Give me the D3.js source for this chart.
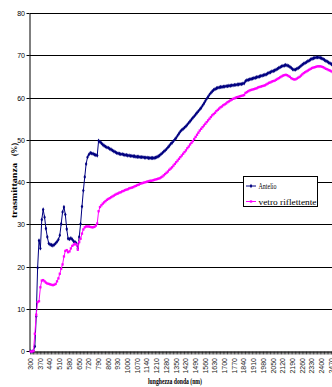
<!DOCTYPE html>
<html>
<head>
<meta charset="utf-8">
<script src="https://cdn.jsdelivr.net/npm/d3@7"></script>
<style>
  html, body { margin: 0; padding: 0; background: #fff; }
  svg { display: block; }
</style>
</head>
<body>
<svg id="chart" width="332" height="387"></svg>
<script>
// Wavelength categories (nm), one every 10 nm
const wavelengths = d3.range(300, 2501, 10);

// Transmittance (%) of the Antelio glass
const antelio = [
  0.0, 0.0, 0.2, 1.2, 8.3, 19.8, 26.3, 24.4, 31.2, 33.6,
  31.8, 29.1, 27.1, 25.6, 25.3, 25.2, 25.1, 25.3, 25.6, 26.0,
  26.5, 27.5, 30.2, 33.0, 34.2, 32.4, 29.0, 26.7, 26.6, 26.8,
  26.5, 26.1, 25.9, 25.6, 24.3, 27.1, 30.2, 34.3, 38.1, 41.3,
  44.4, 46.0, 46.6, 47.0, 46.9, 46.8, 46.6, 46.5, 46.4, 49.9,
  49.6, 49.3, 49.0, 48.7, 48.5, 48.3, 48.2, 48.0, 47.8, 47.6,
  47.4, 47.2, 47.0, 46.9, 46.8, 46.7, 46.7, 46.6, 46.5, 46.5,
  46.4, 46.4, 46.3, 46.3, 46.2, 46.2, 46.1, 46.1, 46.1, 46.0,
  46.0, 46.0, 45.9, 45.9, 45.9, 45.8, 45.8, 45.8, 45.8, 45.8,
  45.9, 46.0, 46.2, 46.4, 46.7, 47.0, 47.3, 47.6, 47.9, 48.3,
  48.7, 49.1, 49.4, 49.8, 50.2, 50.6, 51.1, 51.6, 52.1, 52.4,
  52.7, 53.0, 53.3, 53.7, 54.1, 54.5, 54.9, 55.3, 55.7, 56.1,
  56.5, 56.9, 57.3, 57.7, 58.2, 58.7, 59.3, 59.8, 60.3, 60.8,
  61.2, 61.6, 61.9, 62.1, 62.3, 62.4, 62.5, 62.6, 62.6, 62.7,
  62.7, 62.8, 62.8, 62.9, 62.9, 63.0, 63.0, 63.1, 63.1, 63.2,
  63.2, 63.3, 63.3, 63.4, 63.5, 64.0, 64.2, 64.3, 64.4, 64.5,
  64.6, 64.7, 64.8, 64.9, 65.0, 65.1, 65.2, 65.3, 65.4, 65.5,
  65.6, 65.8, 66.0, 66.1, 66.3, 66.4, 66.5, 66.7, 66.9, 67.1,
  67.3, 67.5, 67.6, 67.7, 67.8, 67.7, 67.6, 67.4, 67.1, 66.8,
  66.7, 66.7, 66.9, 67.1, 67.3, 67.6, 67.9, 68.1, 68.3, 68.5,
  68.7, 68.9, 69.1, 69.3, 69.4, 69.5, 69.6, 69.6, 69.6, 69.5,
  69.4, 69.2, 69.0, 68.8, 68.6, 68.4, 68.2, 68.0, 67.8, 67.6,
  67.4
];

// Transmittance (%) of the reflective glass
const vetroRiflettente = [
  0.0, 0.0, 0.1, 4.2, 8.7, 11.7, 11.9, 15.2, 16.8, 16.9,
  16.6, 16.3, 16.1, 16.0, 15.9, 15.8, 15.7, 15.8, 16.0, 16.6,
  17.3, 18.4, 19.6, 20.6, 22.5, 23.8, 24.0, 23.5, 23.7, 24.4,
  25.0, 25.3, 25.5, 25.3, 24.1, 25.9, 26.7, 27.9, 28.9, 29.4,
  29.6, 29.6, 29.6, 29.5, 29.4, 29.4, 29.5, 29.8, 30.3, 33.2,
  34.2, 34.6, 35.0, 35.3, 35.6, 35.9, 36.1, 36.3, 36.5, 36.7,
  36.9, 37.1, 37.3, 37.4, 37.6, 37.7, 37.9, 38.0, 38.2, 38.3,
  38.4, 38.6, 38.7, 38.8, 38.9, 39.1, 39.2, 39.4, 39.5, 39.7,
  39.8, 39.9, 40.0, 40.1, 40.2, 40.3, 40.4, 40.4, 40.5, 40.6,
  40.7, 40.8, 40.9, 41.0, 41.2, 41.4, 41.7, 42.0, 42.3, 42.6,
  43.0, 43.3, 43.6, 44.0, 44.4, 44.8, 45.2, 45.6, 46.0, 46.4,
  46.8, 47.2, 47.6, 48.1, 48.5, 49.0, 49.4, 49.8, 50.3, 50.8,
  51.3, 51.8, 52.3, 52.7, 53.1, 53.5, 53.9, 54.3, 54.7, 55.1,
  55.5, 55.9, 56.2, 56.5, 56.9, 57.2, 57.5, 57.8, 58.0, 58.3,
  58.5, 58.7, 59.0, 59.2, 59.4, 59.6, 59.8, 59.9, 60.1, 60.2,
  60.3, 60.4, 60.5, 60.6, 60.7, 61.2, 61.4, 61.6, 61.8, 61.9,
  62.0, 62.1, 62.2, 62.3, 62.5, 62.6, 62.7, 62.8, 62.9, 63.0,
  63.2, 63.4, 63.6, 63.7, 63.9, 64.0, 64.1, 64.3, 64.5, 64.7,
  64.9, 65.1, 65.3, 65.4, 65.5, 65.4, 65.2, 65.0, 64.7, 64.5,
  64.4, 64.4, 64.6, 64.8, 65.0, 65.3, 65.6, 65.9, 66.1, 66.3,
  66.5, 66.7, 66.9, 67.1, 67.2, 67.3, 67.4, 67.5, 67.5, 67.5,
  67.4, 67.3, 67.1, 66.9, 66.8, 66.6, 66.5, 66.3, 66.1, 65.9,
  65.7
];

// Axis ticks and labels
const yTicks = [0, 10, 20, 30, 40, 50, 60, 70, 80];
const xLabelEvery = 7;
const seriesNames = ["Antelio", "vetro riflettente"];
const seriesColors = ["#000080", "#FF00FF"];

const svg = d3.select("#chart");

const plotLeft = 29.5, plotTop = 13.5, plotBottom = 351.5;
const step = 1.386;

const x = d3.scaleBand()
  .domain(wavelengths)
  .range([plotLeft + 0.5, plotLeft + 0.5 + wavelengths.length * step])
  .paddingInner(0).paddingOuter(0);
const cx = d => x(d) + x.bandwidth() / 2;

const y = d3.scaleLinear().domain([0, 80]).range([plotBottom, plotTop]);
const crisp = v => Math.round(v - 0.5) + 0.5;

// Horizontal gridlines
svg.append("g")
  .selectAll("line")
  .data(yTicks.filter(t => t > 0))
  .join("line")
  .attr("x1", plotLeft).attr("x2", 340)
  .attr("y1", d => crisp(y(d))).attr("y2", d => crisp(y(d)))
  .attr("stroke", "#000").attr("stroke-width", 1);

// Y axis
const yAxis = svg.append("g")
  .attr("transform", `translate(${plotLeft},0)`)
  .call(d3.axisLeft(y).tickValues(yTicks).tickSizeInner(3).tickSizeOuter(0).tickPadding(1.5));
yAxis.select(".domain").attr("stroke", "#000");
yAxis.selectAll(".tick").attr("transform", d => `translate(0,${crisp(y(d))})`);
yAxis.selectAll(".tick line").attr("stroke", "#000");
yAxis.selectAll(".tick text")
  .attr("font-family", "Arial, 'Liberation Sans', sans-serif")
  .attr("font-size", 7).attr("fill", "#000");

// X axis: tick marks at every category
const xTicks = svg.append("g")
  .attr("transform", `translate(0,${plotBottom})`)
  .call(d3.axisBottom(x).tickValues(wavelengths).tickSizeInner(3).tickSizeOuter(0).tickFormat(""));
xTicks.select(".domain").attr("stroke", "#000");
xTicks.selectAll(".tick line").attr("stroke", "#000").attr("stroke-width", 0.7);

// X axis labels every 7 categories, rotated
const xLab = svg.append("g")
  .attr("transform", `translate(0,${plotBottom})`)
  .call(d3.axisBottom(x).tickValues(wavelengths.filter((d, i) => i % xLabelEvery === 0))
    .tickSize(0).tickPadding(0));
xLab.select(".domain").remove();
xLab.selectAll(".tick text")
  .attr("font-family", "Arial, 'Liberation Sans', sans-serif")
  .attr("font-size", 7).attr("fill", "#222")
  .attr("text-anchor", "end")
  .attr("dy", null)
  .attr("transform", "translate(2.3,6.5) rotate(-90)");

// Series lines and markers
const seriesData = [antelio, vetroRiflettente];
const line = d3.line().x((d, i) => cx(wavelengths[i])).y(d => y(d));

seriesData.forEach((vals, s) => {
  const g = svg.append("g");
  g.append("path")
    .datum(vals)
    .attr("fill", "none")
    .attr("stroke", seriesColors[s])
    .attr("stroke-width", 1)
    .attr("d", line);
  if (s === 0) {
    g.selectAll("path.mk")
      .data(vals)
      .join("path")
      .attr("class", "mk")
      .attr("transform", (d, i) => `translate(${cx(wavelengths[i])},${y(d)})`)
      .attr("d", d3.symbol(d3.symbolDiamond, 5.5)())
      .attr("fill", seriesColors[s]);
  } else {
    g.selectAll("rect.mk")
      .data(vals)
      .join("rect")
      .attr("class", "mk")
      .attr("x", (d, i) => cx(wavelengths[i]) - 1.15)
      .attr("y", d => y(d) - 1.15)
      .attr("width", 2.3).attr("height", 2.3)
      .attr("fill", seriesColors[s]);
  }
});

// Legend
const legend = svg.append("g");
legend.append("rect")
  .attr("x", 243.5).attr("y", 176.5).attr("width", 74).attr("height", 30)
  .attr("fill", "#fff").attr("stroke", "#000").attr("stroke-width", 1);
const legRows = [186, 201.5];
const legTextLen = [18, 58];
seriesNames.forEach((name, s) => {
  const ly = legRows[s];
  legend.append("line")
    .attr("x1", 246).attr("x2", 256).attr("y1", ly).attr("y2", ly)
    .attr("stroke", seriesColors[s]).attr("stroke-width", 1);
  if (s === 0) {
    legend.append("path")
      .attr("transform", `translate(251,${ly})`)
      .attr("d", d3.symbol(d3.symbolDiamond, 5.5)())
      .attr("fill", seriesColors[s]);
  } else {
    legend.append("rect")
      .attr("x", 249.85).attr("y", ly - 1.15).attr("width", 2.3).attr("height", 2.3)
      .attr("fill", seriesColors[s]);
  }
  legend.append("text")
    .attr("x", 258.5).attr("y", ly + 3)
    .attr("font-family", "'Times New Roman', 'Liberation Serif', serif")
    .attr("font-size", 8.5)
    .attr("textLength", legTextLen[s])
    .attr("lengthAdjust", "spacingAndGlyphs")
    .attr("fill", "#000")
    .text(name);
});

// Axis titles
svg.append("text")
  .attr("x", 148).attr("y", 384)
  .attr("font-family", "'Times New Roman', 'Liberation Serif', serif")
  .attr("font-weight", "bold").attr("font-size", 7.5)
  .attr("textLength", 54).attr("lengthAdjust", "spacingAndGlyphs")
  .attr("fill", "#000")
  .text("lunghezza donda  (nm)");

svg.append("text")
  .attr("transform", "translate(16.5,218) rotate(-90)")
  .attr("font-family", "'Times New Roman', 'Liberation Serif', serif")
  .attr("font-weight", "bold").attr("font-size", 8.5)
  .attr("textLength", 55).attr("lengthAdjust", "spacingAndGlyphs")
  .attr("fill", "#000")
  .text("trasmittanza");

svg.append("text")
  .attr("transform", "translate(16.5,156) rotate(-90)")
  .attr("font-family", "'Times New Roman', 'Liberation Serif', serif")
  .attr("font-weight", "bold").attr("font-size", 8.5)
  .attr("textLength", 13).attr("lengthAdjust", "spacingAndGlyphs")
  .attr("fill", "#000")
  .text("(%)");
</script>
</body>
</html>
